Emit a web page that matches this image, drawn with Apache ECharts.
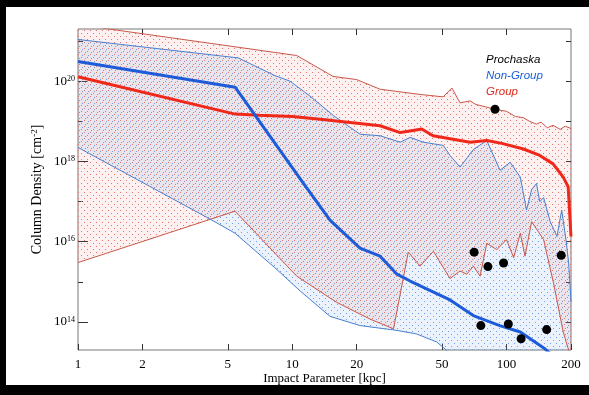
<!DOCTYPE html>
<html>
<head>
<meta charset="utf-8">
<script src="https://cdn.jsdelivr.net/npm/echarts@6/dist/echarts.min.js"></script>
<style>
  html, body { margin: 0; padding: 0; background: #000; }
  #chart { width: 589px; height: 395px; }
</style>
</head>
<body>
<div id="chart"></div>
<script>
// impact parameter in kpc, column density as log10(N / cm^-2)
const groupUpperKpc = [1, 10.5, 15.5, 20, 25.7, 39.5, 50.6, 55.6, 60.7, 67.6, 72, 80, 88.4, 100, 110, 120, 128, 138, 145, 155, 165, 178, 188, 200]
const groupUpperLogN = [21.41, 20.64, 20.12, 20.04, 19.80, 19.67, 19.61, 19.83, 19.46, 19.51, 19.42, 19.36, 19.30, 19.25, 19.12, 19.09, 19.0, 18.93, 18.98, 18.84, 18.9, 18.8, 18.88, 18.82]

const groupMedKpc = [1, 5.41, 7, 10, 13.5, 25.7, 31.9, 36.6, 40.2, 45.4, 67.6, 81, 95, 120, 143, 165, 184, 194, 200]
const groupMedLogN = [20.11, 19.18, 19.15, 19.12, 19.05, 18.89, 18.72, 18.77, 18.81, 18.64, 18.48, 18.52, 18.45, 18.31, 18.15, 17.94, 17.61, 17.37, 16.13]

const groupLowKpc = [1, 5.41, 10.5, 16.1, 23.1, 29.7, 34.8, 39.5, 45.6, 54.5, 60.7, 65.3, 70.1, 75.3, 80.9, 90.1, 100, 108, 116, 122, 131, 149, 166, 184, 192, 200]
const groupLowLogN = [15.48, 16.76, 15.14, 14.49, 14.07, 13.83, 15.74, 15.39, 15.76, 15.08, 15.27, 15.19, 15.39, 15.14, 15.96, 15.80, 16.05, 15.60, 16.21, 15.64, 16.50, 16.05, 14.95, 13.75, 13.42, 13.1]

const nonGroupUpperKpc = [1, 5.6, 8.3, 9.77, 12.1, 15.6, 20.7, 25.7, 31.9, 35.5, 40.9, 50.7, 54.5, 60.7, 70.1, 80.9, 93.3, 104, 116, 124, 131, 138, 143, 149, 160, 172, 181, 190, 195, 200]
const nonGroupUpperLogN = [21.04, 20.58, 20.14, 20.0, 19.63, 19.14, 18.68, 18.64, 18.48, 18.60, 18.48, 18.40, 18.15, 17.86, 18.30, 18.52, 17.78, 17.98, 17.61, 16.79, 17.30, 17.45, 17.0, 17.1, 16.5, 16.13, 16.79, 16.0, 15.47, 14.5]

const nonGroupMedKpc = [1, 5.41, 11.3, 15, 20.7, 25.7, 30.8, 35.5, 54.5, 70, 93, 116, 151, 170]
const nonGroupMedLogN = [20.49, 19.85, 17.45, 16.54, 15.84, 15.64, 15.19, 15.02, 14.55, 14.16, 13.91, 13.75, 13.33, 13.1]

const nonGroupLowKpc = [1, 4.21, 5.41, 8.3, 10.9, 15, 20.7, 30.8, 38.1, 47.3, 55, 200]
const nonGroupLowLogN = [18.35, 16.54, 16.21, 15.35, 14.77, 14.14, 13.91, 13.79, 13.70, 13.50, 13.2, 12]

const prochaskaKpc = [70.6, 81.9, 96.9, 180, 75.9, 102, 117, 154, 88.4]
const prochaskaLogN = [15.74, 15.38, 15.47, 15.66, 13.91, 13.95, 13.58, 13.81, 19.30]

const xTicks = [1, 2, 5, 10, 20, 50, 100, 200]
const yTicks = [14, 15, 16, 17, 18, 19, 20, 21]
const yLabels = [14, 16, 18, 20]
const xMin = 1, xMax = 200
const yMin = Math.log10(2e13), yMax = Math.log10(2e21)

const lg = Math.log10
const pts = (ks, ns) => ks.map((k, i) => [lg(k), ns[i]])

// dotted hatch like the original plot, with a faint tint underneath
function dots(tint, color, list) {
  const c = document.createElement('canvas')
  c.width = c.height = 6
  const g = c.getContext('2d')
  g.fillStyle = tint
  g.fillRect(0, 0, 6, 6)
  g.fillStyle = color
  list.forEach(p => g.fillRect(p[0], p[1], 1, 1))
  return { image: c, repeat: 'repeat' }
}
const redDots = dots('rgba(230,120,110,0.10)', '#e2786c', [[0, 0], [3, 3]])
const blueDots = dots('rgba(110,160,230,0.14)', '#6f9fe4', [[1, 4], [4, 1]])

function band(upper, lower, fill) {
  return {
    type: 'custom',
    coordinateSystem: 'cartesian2d',
    clip: true,
    silent: true,
    z: 1,
    data: [[0.5, 17]],
    renderItem: function (params, api) {
      const poly = upper.concat(lower.slice().reverse()).map(p => api.coord(p))
      return { type: 'polygon', shape: { points: poly }, style: { fill: fill } }
    }
  }
}

function line(name, data, color, width) {
  return {
    name: name,
    type: 'line',
    data: data,
    showSymbol: false,
    clip: true,
    silent: true,
    z: 3,
    lineStyle: { color: color, width: width },
    itemStyle: { color: color }
  }
}

const serif = 'Liberation Serif'
const chart = echarts.init(document.getElementById('chart'))

const tickX = xTicks.map(lg)
const baseX = {
  type: 'value',
  min: lg(xMin),
  max: lg(xMax),
  axisLine: { show: false },
  splitLine: { show: false }
}
const baseY = {
  type: 'value',
  min: yMin,
  max: yMax,
  axisLine: { show: false },
  splitLine: { show: false }
}

chart.setOption({
  backgroundColor: '#000',
  animation: false,
  graphic: [{
    type: 'rect', z: -10, silent: true,
    shape: { x: 6, y: 7, width: 583, height: 378 },
    style: { fill: '#fff' }
  }],
  grid: {
    left: 78, right: 18, top: 29, bottom: 45,
    show: true, borderColor: '#777', borderWidth: 1, backgroundColor: 'transparent'
  },
  legend: {
    orient: 'vertical',
    left: 476,
    top: 48,
    itemWidth: 0,
    itemHeight: 14,
    itemGap: 3,
    selectedMode: false,
    textStyle: { fontFamily: 'Liberation Sans', fontStyle: 'italic', fontSize: 11.5 },
    data: [
      { name: 'Prochaska', icon: 'none', textStyle: { color: '#000' } },
      { name: 'Non-Group', icon: 'none', textStyle: { color: '#1a5fd8' } },
      { name: 'Group', icon: 'none', textStyle: { color: '#e0281a' } }
    ]
  },
  xAxis: [
    Object.assign({}, baseX, {
      position: 'bottom',
      name: 'Impact Parameter [kpc]',
      nameLocation: 'middle',
      nameGap: 22,
      nameMoveOverlap: false,
      nameTextStyle: { fontFamily: serif, fontSize: 13, color: '#000' },
      axisTick: { show: true, inside: true, length: 6, customValues: tickX, lineStyle: { color: '#333' } },
      axisLabel: {
        show: true, margin: 8, customValues: tickX,
        fontFamily: serif, fontSize: 13, color: '#000',
        formatter: v => String(Math.round(Math.pow(10, v)))
      }
    }),
    Object.assign({}, baseX, {
      position: 'top',
      axisTick: { show: true, inside: true, length: 6, customValues: tickX.slice(1, -1), lineStyle: { color: '#333' } },
      axisLabel: { show: false }
    })
  ],
  yAxis: [
    Object.assign({}, baseY, {
      position: 'left',
      axisTick: { show: true, inside: true, length: 5, customValues: yTicks, lineStyle: { color: '#333' } },
      axisLabel: { show: false }
    }),
    Object.assign({}, baseY, {
      position: 'left',
      name: '{a|Column Density [cm}{s|-2}{a|]}',
      nameLocation: 'middle',
      nameGap: 34,
      nameMoveOverlap: false,
      nameTextStyle: {
        rich: {
          a: { fontFamily: serif, fontSize: 14, color: '#000' },
          s: { fontFamily: serif, fontSize: 9, color: '#000', verticalAlign: 'top' }
        }
      },
      axisTick: { show: true, inside: true, length: 10, customValues: yLabels, lineStyle: { color: '#333' } },
      axisLabel: {
        show: true, margin: 3, customValues: yLabels,
        formatter: v => '{b|10}{s|' + Math.round(v) + '}',
        rich: {
          b: { fontFamily: serif, fontSize: 13, color: '#000' },
          s: { fontFamily: serif, fontSize: 8, color: '#000', verticalAlign: 'top' }
        }
      }
    }),
    Object.assign({}, baseY, {
      position: 'right',
      axisTick: { show: true, inside: true, length: 5, customValues: yTicks, lineStyle: { color: '#333' } },
      axisLabel: { show: false }
    })
  ],
  series: [
    band(pts(nonGroupUpperKpc, nonGroupUpperLogN), pts(nonGroupLowKpc, nonGroupLowLogN), blueDots),
    band(pts(groupUpperKpc, groupUpperLogN), pts(groupLowKpc, groupLowLogN), redDots),
    line('Group upper', pts(groupUpperKpc, groupUpperLogN), '#c9574a', 1),
    line('Group lower', pts(groupLowKpc, groupLowLogN), '#c9574a', 1),
    line('Non-Group upper', pts(nonGroupUpperKpc, nonGroupUpperLogN), '#4a7fd0', 1),
    line('Non-Group lower', pts(nonGroupLowKpc, nonGroupLowLogN), '#4a7fd0', 1),
    line('Group', pts(groupMedKpc, groupMedLogN), '#f0281a', 3),
    line('Non-Group', pts(nonGroupMedKpc, nonGroupMedLogN), '#1d5bd8', 3),
    {
      name: 'Prochaska',
      type: 'scatter',
      data: pts(prochaskaKpc, prochaskaLogN),
      symbolSize: 9,
      itemStyle: { color: '#000', opacity: 1 },
      z: 4,
      silent: true
    }
  ]
})
</script>
</body>
</html>
